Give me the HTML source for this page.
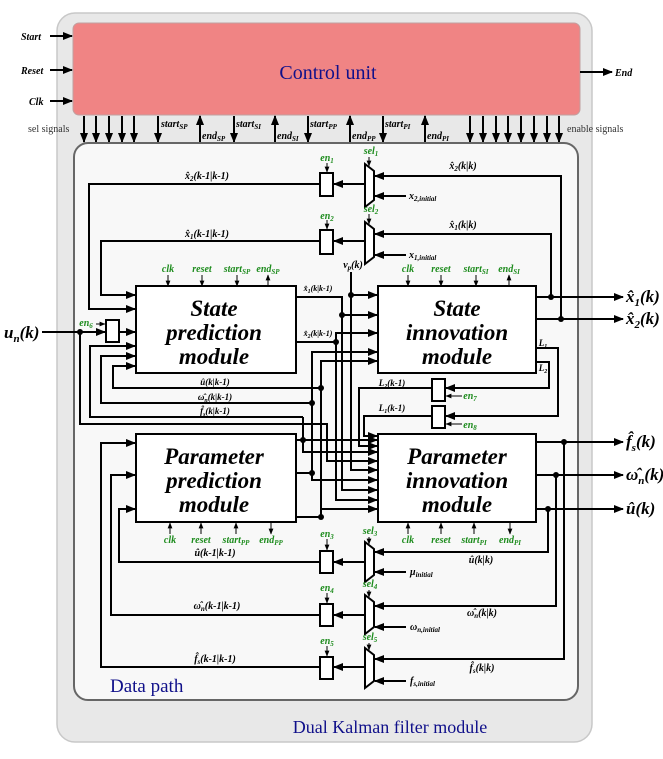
<!DOCTYPE html>
<html><head><meta charset="utf-8"><style>
html,body{margin:0;padding:0;background:#fff;}
svg{display:block;}
.t{font-family:"Liberation Serif",serif;font-style:italic;font-weight:bold;}
.g{fill:#1e8c1e;}
</style></head><body>
<svg width="663" height="759" viewBox="0 0 663 759" xmlns="http://www.w3.org/2000/svg">
<defs>
<marker id="a" viewBox="0 0 10 10" refX="9" refY="5" markerWidth="5" markerHeight="5" orient="auto" markerUnits="strokeWidth"><path d="M0,1 L10,5 L0,9 z" fill="#000"/></marker>
<marker id="s" viewBox="0 0 10 10" refX="9" refY="5" markerWidth="6" markerHeight="6" orient="auto" markerUnits="strokeWidth"><path d="M0,1 L10,5 L0,9 z" fill="#000"/></marker>
</defs>
<rect x="57" y="13" width="535" height="729" rx="18" fill="#e8e8e8" stroke="#c8c8c8" stroke-width="1.5"/>
<rect x="73" y="23" width="507" height="92" rx="6" fill="#f08484" stroke="#c0a0a0"/>
<text x="328" y="79" font-family="Liberation Serif,serif" font-size="20" fill="#10108a" text-anchor="middle">Control unit</text>
<g stroke="#000" stroke-width="2" fill="none" marker-end="url(#a)">
<line x1="50" y1="36" x2="72" y2="36"/><line x1="50" y1="70" x2="72" y2="70"/><line x1="50" y1="101" x2="72" y2="101"/>
<line x1="580" y1="72" x2="612" y2="72"/>
</g>
<g class="t" font-size="10">
<text x="21" y="40">Start</text><text x="21" y="74">Reset</text><text x="29" y="105">Clk</text><text x="615" y="76">End</text>
</g>
<g stroke="#000" stroke-width="2" fill="none" marker-end="url(#a)">
<line x1="84" y1="116" x2="84" y2="142"/><line x1="96" y1="116" x2="96" y2="142"/><line x1="109" y1="116" x2="109" y2="142"/><line x1="122" y1="116" x2="122" y2="142"/><line x1="134" y1="116" x2="134" y2="142"/>
<line x1="158" y1="116" x2="158" y2="142"/><line x1="200" y1="142" x2="200" y2="116"/>
<line x1="234" y1="116" x2="234" y2="142"/><line x1="275" y1="142" x2="275" y2="116"/>
<line x1="308" y1="116" x2="308" y2="142"/><line x1="350" y1="142" x2="350" y2="116"/>
<line x1="383" y1="116" x2="383" y2="142"/><line x1="425" y1="142" x2="425" y2="116"/>
<line x1="470" y1="116" x2="470" y2="142"/><line x1="483" y1="116" x2="483" y2="142"/><line x1="496" y1="116" x2="496" y2="142"/><line x1="508" y1="116" x2="508" y2="142"/><line x1="521" y1="116" x2="521" y2="142"/><line x1="534" y1="116" x2="534" y2="142"/><line x1="547" y1="116" x2="547" y2="142"/><line x1="559" y1="116" x2="559" y2="142"/>
</g>
<g font-family="Liberation Serif,serif" font-size="10" fill="#333">
<text x="28" y="132">sel signals</text><text x="567" y="132">enable signals</text>
</g>
<g class="t" font-size="10">
<text x="161" y="127">start<tspan font-size="7" dy="2">SP</tspan></text>
<text x="202" y="139">end<tspan font-size="7" dy="2">SP</tspan></text>
<text x="236" y="127">start<tspan font-size="7" dy="2">SI</tspan></text>
<text x="277" y="139">end<tspan font-size="7" dy="2">SI</tspan></text>
<text x="310" y="127">start<tspan font-size="7" dy="2">PP</tspan></text>
<text x="352" y="139">end<tspan font-size="7" dy="2">PP</tspan></text>
<text x="385" y="127">start<tspan font-size="7" dy="2">PI</tspan></text>
<text x="427" y="139">end<tspan font-size="7" dy="2">PI</tspan></text>
</g>
<rect x="74" y="143" width="504" height="557" rx="14" fill="#f8f8f8" stroke="#666" stroke-width="2"/>
<text x="110" y="692" font-family="Liberation Serif,serif" font-size="19" fill="#10108a">Data path</text>
<text x="390" y="733" font-family="Liberation Serif,serif" font-size="18" fill="#10108a" text-anchor="middle">Dual Kalman filter module</text>

<g fill="#fff" stroke="#000" stroke-width="2">
<rect x="136" y="286" width="160" height="87"/>
<rect x="378" y="286" width="158" height="87"/>
<rect x="136" y="434" width="160" height="88"/>
<rect x="378" y="434" width="158" height="88"/>
</g>
<g class="t" font-size="23" text-anchor="middle">
<text x="214" y="316">State</text><text x="214" y="340">prediction</text><text x="214" y="364">module</text>
<text x="457" y="316">State</text><text x="457" y="340">innovation</text><text x="457" y="364">module</text>
<text x="214" y="464">Parameter</text><text x="214" y="488">prediction</text><text x="214" y="512">module</text>
<text x="457" y="464">Parameter</text><text x="457" y="488">innovation</text><text x="457" y="512">module</text>
</g>

<g stroke="#000" stroke-width="2" fill="none">
<polyline points="320,184 89,184 89,309 135,309" marker-end="url(#a)"/>
<polyline points="320,241 101,241 101,295 135,295" marker-end="url(#a)"/>
<line x1="42" y1="332" x2="105" y2="332" marker-end="url(#a)"/>
<line x1="119" y1="332" x2="135" y2="332" marker-end="url(#a)"/>
<polyline points="80,332 80,424 327,424 327,461 377,461" marker-end="url(#a)"/>
<polyline points="321,388 113,388 113,366 135,366" marker-end="url(#a)"/>
<polyline points="312,403 101,403 101,356 135,356" marker-end="url(#a)"/>
<polyline points="303,417 90,417 90,346 135,346" marker-end="url(#a)"/>
<line x1="303" y1="417" x2="303" y2="440"/>
<polyline points="296,440 303,440 303,452 377,452" marker-end="url(#a)"/>
<polyline points="296,473 312,473 312,352 377,352" marker-end="url(#a)"/>
<polyline points="296,517 321,517 321,361 377,361" marker-end="url(#a)"/>
<polyline points="312,473 312,480 377,480" marker-end="url(#a)"/>
<polyline points="321,517 321,509 377,509" marker-end="url(#a)"/>
<polyline points="296,297 342,297 342,490 377,490" marker-end="url(#a)"/>
<line x1="342" y1="315" x2="377" y2="315" marker-end="url(#a)"/>
<polyline points="296,342 336,342 336,333 377,333" marker-end="url(#a)"/>
<polyline points="336,342 336,500 377,500" marker-end="url(#a)"/>
<polyline points="351,272 351,295 377,295" marker-end="url(#a)"/>
<polyline points="351,295 351,470 377,470" marker-end="url(#a)"/>
<line x1="303" y1="440" x2="377" y2="440" marker-end="url(#a)"/>
<line x1="536" y1="297" x2="623" y2="297" marker-end="url(#a)"/>
<line x1="536" y1="319" x2="623" y2="319" marker-end="url(#a)"/>
<polyline points="551,297 551,234 375,234" marker-end="url(#a)"/>
<polyline points="561,319 561,176 375,176" marker-end="url(#a)"/>
<polyline points="536,348 558,348 558,416 446,416" marker-end="url(#a)"/>
<polyline points="536,362 549,362 549,388 446,388" marker-end="url(#a)"/>
<polyline points="432,388 359,388 359,446 377,446" marker-end="url(#a)"/>
<polyline points="432,416 364,416 364,436 377,436" marker-end="url(#a)"/>
<line x1="536" y1="442" x2="623" y2="442" marker-end="url(#a)"/>
<line x1="536" y1="475" x2="623" y2="475" marker-end="url(#a)"/>
<line x1="536" y1="509" x2="623" y2="509" marker-end="url(#a)"/>
<polyline points="564,442 564,659 375,659" marker-end="url(#a)"/>
<polyline points="556,475 556,606 375,606" marker-end="url(#a)"/>
<polyline points="548,509 548,552 375,552" marker-end="url(#a)"/>
<polyline points="320,562 119,562 119,509 135,509" marker-end="url(#a)"/>
<polyline points="320,615 111,615 111,475 135,475" marker-end="url(#a)"/>
<polyline points="320,667 101,667 101,443 135,443" marker-end="url(#a)"/>
<line x1="365" y1="184" x2="334" y2="184" marker-end="url(#a)"/>
<line x1="365" y1="241" x2="334" y2="241" marker-end="url(#a)"/>
<line x1="365" y1="562" x2="334" y2="562" marker-end="url(#a)"/>
<line x1="365" y1="615" x2="334" y2="615" marker-end="url(#a)"/>
<line x1="365" y1="667" x2="334" y2="667" marker-end="url(#a)"/>
<line x1="406" y1="196" x2="375" y2="196" marker-end="url(#a)"/>
<line x1="406" y1="255" x2="375" y2="255" marker-end="url(#a)"/>
<line x1="406" y1="572" x2="375" y2="572" marker-end="url(#a)"/>
<line x1="406" y1="627" x2="375" y2="627" marker-end="url(#a)"/>
<line x1="406" y1="681" x2="375" y2="681" marker-end="url(#a)"/>
</g>
<g fill="#000">
<circle cx="80" cy="332" r="3"/><circle cx="551" cy="297" r="3"/><circle cx="561" cy="319" r="3"/>
<circle cx="564" cy="442" r="3"/><circle cx="556" cy="475" r="3"/><circle cx="548" cy="509" r="3"/>
<circle cx="342" cy="315" r="3"/><circle cx="351" cy="295" r="3"/><circle cx="336" cy="342" r="3"/>
<circle cx="303" cy="440" r="3"/><circle cx="312" cy="473" r="3"/><circle cx="321" cy="517" r="3"/>
<circle cx="312" cy="403" r="3"/><circle cx="321" cy="388" r="3"/>
</g>
<g fill="#fff" stroke="#000" stroke-width="2">
<rect x="320" y="173" width="13" height="23"/><rect x="320" y="230" width="13" height="24"/>
<rect x="106" y="320" width="13" height="22"/>
<rect x="432" y="379" width="13" height="22"/><rect x="432" y="406" width="13" height="22"/>
<rect x="320" y="551" width="13" height="22"/><rect x="320" y="604" width="13" height="22"/><rect x="320" y="657" width="13" height="22"/>
<polygon points="365,164 374,171 374,200 365,207"/>
<polygon points="365,222 374,229 374,257 365,264"/>
<polygon points="365,542 374,549 374,575 365,582"/>
<polygon points="365,595 374,602 374,627 365,634"/>
<polygon points="365,648 374,655 374,681 365,688"/>
</g>
<g stroke="#000" stroke-width="1" fill="none" marker-end="url(#s)">
<line x1="168" y1="275" x2="168" y2="286"/><line x1="202" y1="275" x2="202" y2="286"/><line x1="237" y1="275" x2="237" y2="286"/><line x1="268" y1="286" x2="268" y2="275"/>
<line x1="408" y1="275" x2="408" y2="286"/><line x1="441" y1="275" x2="441" y2="286"/><line x1="476" y1="275" x2="476" y2="286"/><line x1="509" y1="286" x2="509" y2="275"/>
<line x1="170" y1="534" x2="170" y2="523"/><line x1="201" y1="534" x2="201" y2="523"/><line x1="236" y1="534" x2="236" y2="523"/><line x1="271" y1="523" x2="271" y2="534"/>
<line x1="408" y1="534" x2="408" y2="523"/><line x1="441" y1="534" x2="441" y2="523"/><line x1="474" y1="534" x2="474" y2="523"/><line x1="510" y1="523" x2="510" y2="534"/>
<line x1="327" y1="163" x2="327" y2="172"/><line x1="369" y1="157" x2="369" y2="166"/>
<line x1="327" y1="220" x2="327" y2="229"/><line x1="369" y1="214" x2="369" y2="224"/>
<line x1="327" y1="539" x2="327" y2="550"/><line x1="369" y1="537" x2="369" y2="544"/>
<line x1="327" y1="593" x2="327" y2="603"/><line x1="369" y1="590" x2="369" y2="597"/>
<line x1="327" y1="646" x2="327" y2="656"/><line x1="369" y1="643" x2="369" y2="650"/>
<line x1="96" y1="324" x2="105" y2="324"/>
<line x1="462" y1="396" x2="446" y2="396"/><line x1="462" y1="424" x2="446" y2="424"/>
</g>
<g class="t g" font-size="10" text-anchor="middle">
<text x="168" y="272">clk</text><text x="202" y="272">reset</text><text x="237" y="272">start<tspan font-size="7" dy="2">SP</tspan></text><text x="268" y="272">end<tspan font-size="7" dy="2">SP</tspan></text>
<text x="408" y="272">clk</text><text x="441" y="272">reset</text><text x="476" y="272">start<tspan font-size="7" dy="2">SI</tspan></text><text x="509" y="272">end<tspan font-size="7" dy="2">SI</tspan></text>
<text x="170" y="543">clk</text><text x="201" y="543">reset</text><text x="236" y="543">start<tspan font-size="7" dy="2">PP</tspan></text><text x="271" y="543">end<tspan font-size="7" dy="2">PP</tspan></text>
<text x="408" y="543">clk</text><text x="441" y="543">reset</text><text x="474" y="543">start<tspan font-size="7" dy="2">PI</tspan></text><text x="510" y="543">end<tspan font-size="7" dy="2">PI</tspan></text>
<text x="327" y="161">en<tspan font-size="7" dy="2">1</tspan></text><text x="371" y="154">sel<tspan font-size="7" dy="2">1</tspan></text>
<text x="327" y="219">en<tspan font-size="7" dy="2">2</tspan></text><text x="371" y="212">sel<tspan font-size="7" dy="2">2</tspan></text>
<text x="327" y="537">en<tspan font-size="7" dy="2">3</tspan></text><text x="370" y="534">sel<tspan font-size="7" dy="2">3</tspan></text>
<text x="327" y="591">en<tspan font-size="7" dy="2">4</tspan></text><text x="370" y="587">sel<tspan font-size="7" dy="2">4</tspan></text>
<text x="327" y="644">en<tspan font-size="7" dy="2">5</tspan></text><text x="370" y="640">sel<tspan font-size="7" dy="2">5</tspan></text>
<text x="86" y="326">en<tspan font-size="7" dy="2">6</tspan></text>
<text x="470" y="399">en<tspan font-size="7" dy="2">7</tspan></text><text x="470" y="428">en<tspan font-size="7" dy="2">8</tspan></text>
</g>
<g class="t" font-size="10" text-anchor="middle">
<text x="207" y="179">x̂<tspan font-size="7" dy="2">2</tspan><tspan dy="-2">(k-1|k-1)</tspan></text>
<text x="207" y="237">x̂<tspan font-size="7" dy="2">1</tspan><tspan dy="-2">(k-1|k-1)</tspan></text>
<text x="463" y="169">x̂<tspan font-size="7" dy="2">2</tspan><tspan dy="-2">(k|k)</tspan></text>
<text x="463" y="228">x̂<tspan font-size="7" dy="2">1</tspan><tspan dy="-2">(k|k)</tspan></text>
<text x="353" y="268">v<tspan font-size="7" dy="2">p</tspan><tspan dy="-2">(k)</tspan></text>
<text x="318" y="291" font-size="8">x̂<tspan font-size="6" dy="2">1</tspan><tspan dy="-2">(k|k-1)</tspan></text>
<text x="318" y="336" font-size="8">x̂<tspan font-size="6" dy="2">2</tspan><tspan dy="-2">(k|k-1)</tspan></text>
<text x="215" y="385" font-size="9">û(k|k-1)</text>
<text x="215" y="400" font-size="9">ω̂<tspan font-size="6" dy="2">n</tspan><tspan dy="-2">(k|k-1)</tspan></text>
<text x="215" y="414" font-size="9">f̂<tspan font-size="6" dy="2">s</tspan><tspan dy="-2">(k|k-1)</tspan></text>
<text x="392" y="386" font-size="9">L<tspan font-size="6" dy="2">2</tspan><tspan dy="-2">(k-1)</tspan></text>
<text x="392" y="411" font-size="9">L<tspan font-size="6" dy="2">1</tspan><tspan dy="-2">(k-1)</tspan></text>
<text x="543" y="346" font-size="9">L<tspan font-size="6" dy="2">1</tspan></text>
<text x="543" y="371" font-size="9">L<tspan font-size="6" dy="2">2</tspan></text>
<text x="215" y="556">û(k-1|k-1)</text>
<text x="217" y="609">ω̂<tspan font-size="7" dy="2">n</tspan><tspan dy="-2">(k-1|k-1)</tspan></text>
<text x="215" y="662">f̂<tspan font-size="7" dy="2">s</tspan><tspan dy="-2">(k-1|k-1)</tspan></text>
<text x="481" y="563">û(k|k)</text>
<text x="482" y="616">ω̂<tspan font-size="7" dy="2">n</tspan><tspan dy="-2">(k|k)</tspan></text>
<text x="482" y="671">f̂<tspan font-size="7" dy="2">s</tspan><tspan dy="-2">(k|k)</tspan></text>
</g>
<g class="t" font-size="10">
<text x="409" y="199">x<tspan font-size="7" dy="2">2,initial</tspan></text>
<text x="409" y="258">x<tspan font-size="7" dy="2">1,initial</tspan></text>
<text x="410" y="575">μ<tspan font-size="7" dy="2">initial</tspan></text>
<text x="410" y="630">ω<tspan font-size="7" dy="2">n,initial</tspan></text>
<text x="410" y="684">f<tspan font-size="7" dy="2">s,initial</tspan></text>
</g>
<g class="t" font-size="17">
<text x="4" y="338">u<tspan font-size="11" dy="4">n</tspan><tspan dy="-4">(k)</tspan></text>
<text x="626" y="302">x̂<tspan font-size="11" dy="4">1</tspan><tspan dy="-4">(k)</tspan></text>
<text x="626" y="324">x̂<tspan font-size="11" dy="4">2</tspan><tspan dy="-4">(k)</tspan></text>
<text x="626" y="447">f̂<tspan font-size="11" dy="4">s</tspan><tspan dy="-4">(k)</tspan></text>
<text x="626" y="480">ω̂<tspan font-size="11" dy="4">n</tspan><tspan dy="-4">(k)</tspan></text>
<text x="626" y="514">û(k)</text>
</g>
</svg>
</body></html>
